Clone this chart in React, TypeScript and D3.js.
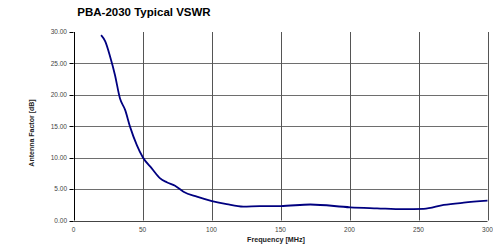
import React from "react";
import * as d3 from "d3";

const freqs = [20, 23, 26.5, 30, 33.7, 37.4, 41, 45.9, 50.2, 56.7, 62.8, 67.6, 73.6, 79.7, 89.4, 100.3, 111, 123, 135, 149.8, 171.6, 200.6, 220, 239, 253.8, 268.3, 282.8, 300];
const values = [29.5, 28.5, 26.1, 23.2, 19.4, 17.6, 14.9, 12.0, 10.06, 8.3, 6.7, 6.08, 5.54, 4.58, 3.79, 3.1, 2.6, 2.2, 2.3, 2.3, 2.55, 2.1, 1.94, 1.8, 1.85, 2.47, 2.83, 3.15];
const xTicks = [0, 50, 100, 150, 200, 250, 300];
const yTicks = [0, 5, 10, 15, 20, 25, 30];

export default function App() {
  const W = 493, H = 248;
  const x = d3.scaleLinear().domain([0, 300]).range([73.5, 487.5]);
  const y = d3.scaleLinear().domain([0, 30]).range([220.5, 32]);
  const pts: [number, number][] = freqs.map((f, i) => [f, values[i]]);
  const line = d3.line<[number, number]>().x(d => x(d[0])).y(d => y(d[1])).curve(d3.curveMonotoneX);
  const font = "Arial, 'Liberation Sans', sans-serif";
  return (
    <svg width={W} height={H} style={{ position: "absolute", left: 0, top: 0, background: "#fff" }}>
      <text x={144} y={16} textAnchor="middle" fontFamily={font} fontWeight="bold" fontSize={11.5} fill="#000">PBA-2030 Typical VSWR</text>
      {yTicks.filter(t => t > 0 && t < 30).map(t => (
        <line key={"hy" + t} x1={x(0)} x2={x(300)} y1={Math.round(y(t)) + 0.5} y2={Math.round(y(t)) + 0.5} stroke="#6e6e6e" strokeWidth={1} />
      ))}
      {xTicks.filter(t => t > 0).map(t => (
        <line key={"vx" + t} x1={Math.round(x(t)) + 0.5} x2={Math.round(x(t)) + 0.5} y1={y(30)} y2={y(0)} stroke="#555" strokeWidth={1} />
      ))}
      <line x1={x(0)} x2={x(300)} y1={Math.round(y(0)) + 0.5} y2={Math.round(y(0)) + 0.5} stroke="#444" strokeWidth={1} />
      <line x1={Math.round(x(0)) + 0.5} x2={Math.round(x(0)) + 0.5} y1={y(30)} y2={y(0)} stroke="#000" strokeWidth={1} />
      {yTicks.map(t => (
        <g key={"ty" + t}>
          <line x1={x(0) - 4} x2={x(0)} y1={Math.round(y(t)) + 0.5} y2={Math.round(y(t)) + 0.5} stroke="#000" />
          <text x={67} y={y(t) + 2.3} textAnchor="end" fontFamily={font} fontSize={6.5} fill="#444">{t.toFixed(2)}</text>
        </g>
      ))}
      {xTicks.map(t => (
        <text key={"tx" + t} x={x(t)} y={232} textAnchor="middle" fontFamily={font} fontSize={6.5} fill="#444">{t}</text>
      ))}
      <text x={276} y={242} textAnchor="middle" fontFamily={font} fontWeight="bold" fontSize={7.2} fill="#222">Frequency [MHz]</text>
      <text transform="translate(33.5,133) rotate(-90)" textAnchor="middle" fontFamily={font} fontWeight="bold" fontSize={7} fill="#222">Antenna Factor [dB]</text>
      <path d={line(pts) || ""} fill="none" stroke="#000080" strokeWidth={1.8} />
    </svg>
  );
}
